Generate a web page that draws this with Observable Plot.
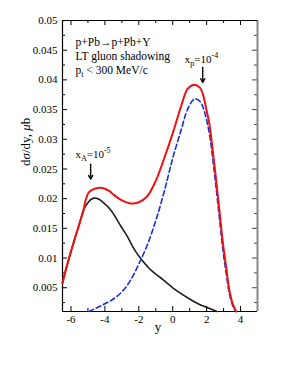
<!DOCTYPE html>
<html><head><meta charset="utf-8">
<script src="https://cdn.jsdelivr.net/npm/d3@7"></script>
<script src="https://cdn.jsdelivr.net/npm/@observablehq/plot@0.6"></script>
<style>body{margin:0;background:#fff}</style>
</head><body><div id="chart"></div>
<script>
// x_A = 1e-5 contribution (black)
const blackX = [-6.5, -6.25, -6.0, -5.75, -5.5, -5.24, -5.0, -4.8, -4.6, -4.35, -4.0, -3.66, -3.0, -2.67, -2.25, -1.88, -1.29, -0.5, 0.0, 0.5, 1.0, 1.5, 2.0, 2.6];
const blackV = [0.0058, 0.0086, 0.0111, 0.0135, 0.0158, 0.0182, 0.0193, 0.0199, 0.0201, 0.0199, 0.0191, 0.0181, 0.0151, 0.0136, 0.0114, 0.0099, 0.0080, 0.0062, 0.0050, 0.0040, 0.0031, 0.0023, 0.0017, 0.0010];
// x_p = 1e-4 contribution (blue dashed)
const blueX = [-4.94, -4.5, -4.0, -3.5, -3.0, -2.5, -2.0, -1.5, -1.0, -0.5, 0.0, 0.5, 0.9, 1.3, 1.6, 1.8, 2.0, 2.2, 2.45, 2.65, 2.95, 3.15, 3.35, 3.55, 3.72];
const blueV = [0.0010, 0.0016, 0.0023, 0.0031, 0.0043, 0.0062, 0.0090, 0.0122, 0.0163, 0.0212, 0.0268, 0.0316, 0.0352, 0.0368, 0.0364, 0.0353, 0.0332, 0.0303, 0.0245, 0.0195, 0.0116, 0.0075, 0.0039, 0.0019, 0.0010];
// total (red)
const redX = [-6.5, -6.25, -6.0, -5.75, -5.5, -5.24, -5.14, -4.94, -4.55, -4.15, -3.75, -3.5, -3.0, -2.5, -2.0, -1.5, -1.0, -0.5, 0.0, 0.5, 0.88, 1.27, 1.6, 1.77, 2.0, 2.16, 2.45, 2.65, 2.95, 3.15, 3.34, 3.55, 3.74];
const redV = [0.0058, 0.0086, 0.0111, 0.0135, 0.0158, 0.0183, 0.0197, 0.0211, 0.0217, 0.0218, 0.0213, 0.0207, 0.0197, 0.0192, 0.0194, 0.0204, 0.0230, 0.0268, 0.0310, 0.0356, 0.0385, 0.0392, 0.0387, 0.0377, 0.0348, 0.0326, 0.0259, 0.0208, 0.0128, 0.0085, 0.0046, 0.0022, 0.0010];

const xMajor = [-6, -4, -2, 0, 2, 4];
const xMinor = [-5, -3, -1, 1, 3];
const yMajor = [0.005, 0.01, 0.015, 0.02, 0.025, 0.03, 0.035, 0.04, 0.045, 0.05];
const yMinor = [0.0025, 0.0075, 0.0125, 0.0175, 0.0225, 0.0275, 0.0325, 0.0375, 0.0425, 0.0475];

const black = blackX.map((x, i) => ({x, v: blackV[i]}));
const blue = blueX.map((x, i) => ({x, v: blueV[i]}));
const red = redX.map((x, i) => ({x, v: redV[i]}));

const W = 300, H = 388, mL = 62, mR = 43, mT = 20, mB = 77;
const fw = W - mL - mR, fh = H - mT - mB;

const chart = Plot.plot({
  width: W, height: H,
  marginLeft: mL, marginRight: mR, marginTop: mT, marginBottom: mB,
  style: {fontFamily: "'Liberation Serif', 'Times New Roman', serif", fontSize: "11px", background: "#fff", color: "#000", overflow: "visible"},
  x: {domain: [-6.5, 5]},
  y: {domain: [0.001, 0.05]},
  marks: [
    Plot.axisX({ticks: xMajor, tickSize: 0, tickPadding: 4, tickFormat: d => String(d), label: null, fontSize: 11}),
    Plot.axisY({ticks: yMajor, tickSize: 0, tickPadding: 5, tickFormat: d => String(d), label: null, fontSize: 11}),
    // inward ticks
    Plot.tickX(xMajor, {x: d => d, insetTop: fh - 5, stroke: "#000"}),
    Plot.tickX(xMajor, {x: d => d, insetBottom: fh - 5, stroke: "#000"}),
    Plot.tickX(xMinor, {x: d => d, insetTop: fh - 3, stroke: "#000"}),
    Plot.tickX(xMinor, {x: d => d, insetBottom: fh - 3, stroke: "#000"}),
    Plot.tickY(yMajor, {y: d => d, insetRight: fw - 5, stroke: "#000"}),
    Plot.tickY(yMajor, {y: d => d, insetLeft: fw - 5, stroke: "#444"}),
    Plot.tickY(yMinor, {y: d => d, insetRight: fw - 3, stroke: "#000"}),
    Plot.tickY(yMinor, {y: d => d, insetLeft: fw - 3, stroke: "#444"}),
    // frame
    Plot.ruleX([5], {stroke: "#888", strokeWidth: 2}),
    Plot.ruleX([-6.5], {stroke: "#000", strokeWidth: 1.2}),
    Plot.ruleY([0.001], {stroke: "#000", strokeWidth: 1.2}),
    Plot.ruleY([0.05], {stroke: "#000", strokeWidth: 1}),
    // curves
    Plot.line(black, {x: "x", y: "v", stroke: "#1a1a1a", strokeWidth: 1.6, curve: "catmull-rom", strokeDasharray: "2.5,0.6"}),
    Plot.line(blue, {x: "x", y: "v", stroke: "#1530e0", strokeWidth: 1.6, strokeDasharray: "5,3", curve: "catmull-rom"}),
    Plot.line(red, {x: "x", y: "v", stroke: "#ee1111", strokeWidth: 2, curve: "catmull-rom"}),
    // annotations
    Plot.text(["p+Pb→p+Pb+Υ"], {frameAnchor: "top-left", dx: 13, dy: 17, textAnchor: "start", fontSize: 11.5, fill: "#000"}),
    Plot.text(["LT gluon shadowing"], {frameAnchor: "top-left", dx: 13, dy: 31, textAnchor: "start", fontSize: 11.5, fill: "#000"}),
    Plot.text(["pt < 300 MeV/c"], {frameAnchor: "top-left", dx: 13, dy: 45, textAnchor: "start", fontSize: 11.5, fill: "#000", className: "ann-pt"}),
    Plot.text(["xA=10-5"], {x: [-4.7], y: [0.0275], textAnchor: "middle", fontSize: 11, fill: "#000", className: "ann-xa"}),
    Plot.text(["xp=10-4"], {x: [1.7], y: [0.0435], textAnchor: "middle", fontSize: 11, fill: "#000", className: "ann-xp"}),
    Plot.arrow([0], {x1: -4.84, y1: 0.0258, x2: -4.84, y2: 0.0233, stroke: "#000", strokeWidth: 1.5, strokeDasharray: "1.5,1", headLength: 4, headAngle: 60}),
    Plot.arrow([0], {x1: 1.77, y1: 0.0421, x2: 1.77, y2: 0.0396, stroke: "#000", strokeWidth: 1.5, strokeDasharray: "1.5,1", headLength: 4, headAngle: 60}),
    // axis titles
    Plot.text(["dσ/dy, μb"], {frameAnchor: "left", dx: -37, rotate: -90, fontSize: 13, fill: "#000", className: "ann-ylab"}),
    Plot.text(["y"], {frameAnchor: "bottom", dx: -2, dy: 19, fontSize: 13, fill: "#000"})
  ]
});
document.getElementById("chart").appendChild(chart);

function rich(cls, parts) {
  d3.select(chart).selectAll("." + cls + " text").each(function () {
    const t = d3.select(this);
    t.text(null);
    let cur = 0;
    parts.forEach(p => {
      const s = t.append("tspan").text(p.t);
      const shift = p.shift || 0;
      if (shift !== cur) s.attr("dy", shift - cur);
      cur = shift;
      if (p.fs) s.attr("font-size", p.fs);
      if (p.it) s.attr("font-style", "italic");
    });
  });
}
rich("ann-pt", [{t: "p"}, {t: "t", shift: 3, fs: 8}, {t: " < 300 MeV/c"}]);
rich("ann-xa", [{t: "x"}, {t: "A", shift: 3, fs: 8}, {t: "=10"}, {t: "-5", shift: -5, fs: 8}]);
rich("ann-xp", [{t: "x"}, {t: "p", shift: 3, fs: 8}, {t: "=10"}, {t: "-4", shift: -5, fs: 8}]);
rich("ann-ylab", [{t: "d"}, {t: "σ", it: true}, {t: "/dy, "}, {t: "μ", it: true}, {t: "b"}]);
</script>
</body></html>
